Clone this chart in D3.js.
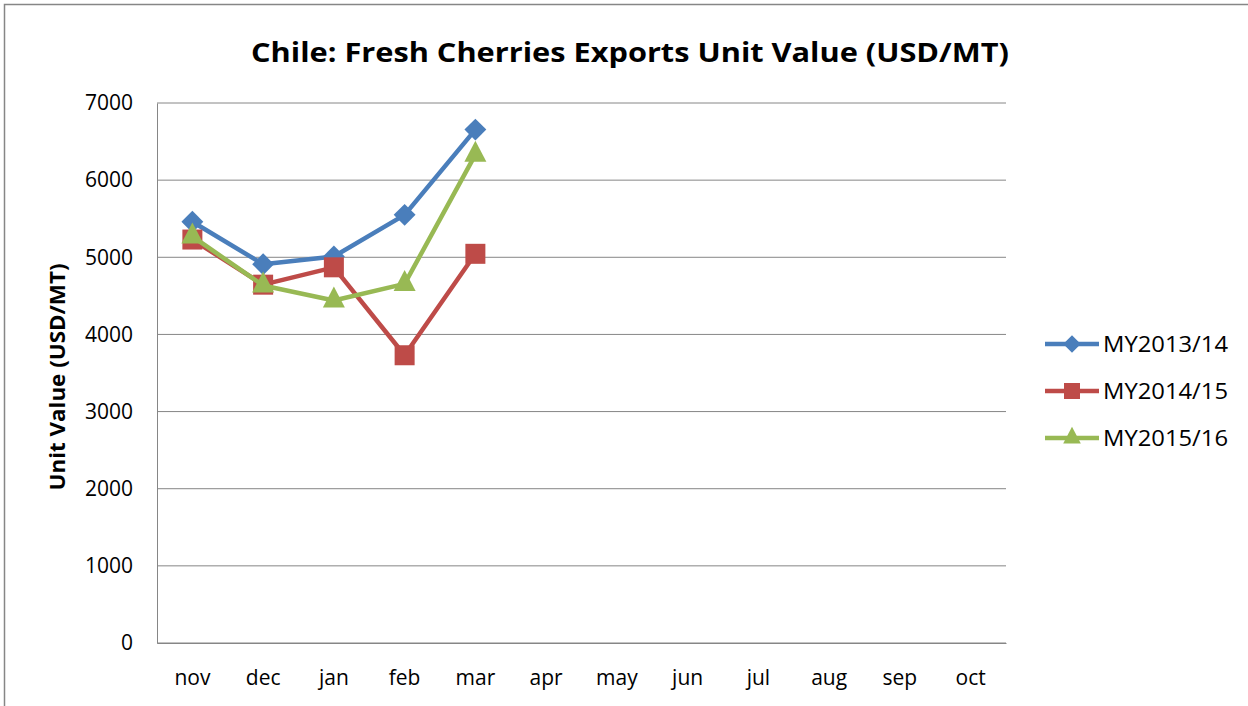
<!DOCTYPE html>
<html>
<head>
<meta charset="utf-8">
<script src="https://cdn.jsdelivr.net/npm/d3@7"></script>
<style>
  body { margin: 0; background: #fff; }
  svg { display: block; font-family: "Open Sans", "Noto Sans", sans-serif; }
</style>
</head>
<body>
<svg id="chart" width="1248" height="706"></svg>
<script>
const months = ["nov", "dec", "jan", "feb", "mar", "apr", "may", "jun", "jul", "aug", "sep", "oct"];
const yTicks = [0, 1000, 2000, 3000, 4000, 5000, 6000, 7000];
const seriesNames = ["MY2013/14", "MY2014/15", "MY2015/16"];
const my1314 = [5460, 4910, 5010, 5550, 6655];
const my1415 = [5230, 4645, 4870, 3730, 5045];
const my1516 = [5270, 4635, 4440, 4655, 6330];
const colors = ["#4a7ebb", "#be4b48", "#98b954"];

const svg = d3.select("#chart");
const plot = { left: 157, right: 1006, top: 103, bottom: 643 };

// outer frame
svg.append("rect")
  .attr("x", 4.5).attr("y", 4.5)
  .attr("width", 1260).attr("height", 720)
  .attr("fill", "none").attr("stroke", "#868686").attr("stroke-width", 1.5);

svg.append("text")
  .attr("x", 630).attr("y", 62)
  .attr("text-anchor", "middle")
  .attr("font-size", 26).attr("font-weight", "bold")
  .attr("textLength", 758).attr("lengthAdjust", "spacingAndGlyphs")
  .text("Chile: Fresh Cherries Exports Unit Value (USD/MT)");

const x = d3.scaleBand().domain(months).range([plot.left, plot.right]);
const y = d3.scaleLinear().domain([0, 7000]).range([plot.bottom, plot.top]);

// gridlines
svg.append("g")
  .selectAll("line")
  .data(yTicks)
  .join("line")
  .attr("x1", plot.left).attr("x2", plot.right)
  .attr("y1", d => y(d)).attr("y2", d => y(d))
  .attr("stroke", "#868686").attr("stroke-width", 1);

// y axis
const yAxis = svg.append("g")
  .attr("transform", `translate(${plot.left},0)`)
  .call(d3.axisLeft(y).tickValues(yTicks).tickFormat(d3.format("d")).tickSize(0).tickPadding(24));
yAxis.select(".domain").attr("stroke", "#868686");
yAxis.selectAll("text").attr("font-size", 21).attr("fill", "#000")
  .attr("font-family", "Open Sans, sans-serif");

// x axis
const xAxis = svg.append("g")
  .attr("transform", `translate(0,${plot.bottom})`)
  .call(d3.axisBottom(x).tickSize(0).tickPadding(27));
xAxis.select(".domain").attr("stroke", "#868686");
xAxis.selectAll("text").attr("font-size", 21).attr("fill", "#000")
  .attr("font-family", "Open Sans, sans-serif");

svg.append("text")
  .attr("transform", `translate(65,${(plot.top + plot.bottom) / 2 + 4}) rotate(-90)`)
  .attr("text-anchor", "middle")
  .attr("font-size", 21).attr("font-weight", "bold")
  .attr("textLength", 227).attr("lengthAdjust", "spacingAndGlyphs")
  .text("Unit Value (USD/MT)");

// marker shapes: diamond is a square turned 45 degrees
function marker(sel, s, scale) {
  if (s === 0) {
    const a = 15.5 * scale;
    sel.append("rect")
      .attr("x", -a / 2).attr("y", -a / 2)
      .attr("width", a).attr("height", a)
      .attr("transform", "rotate(45)");
  } else if (s === 1) {
    const a = 20 * scale;
    sel.append("rect")
      .attr("x", -a / 2).attr("y", -a / 2)
      .attr("width", a).attr("height", a);
  } else {
    const h = 21 * scale, w = 22 * scale;
    sel.append("path")
      .attr("d", `M0,${-h * 2 / 3}L${w / 2},${h / 3}L${-w / 2},${h / 3}Z`);
  }
}

const series = [my1314, my1415, my1516];
const line = d3.line()
  .x((d, i) => x(months[i]) + x.bandwidth() / 2)
  .y(d => y(d));

series.forEach((vals, s) => {
  svg.append("path")
    .attr("d", line(vals))
    .attr("fill", "none")
    .attr("stroke", colors[s]).attr("stroke-width", 4.5)
    .attr("stroke-linejoin", "round");
  svg.append("g")
    .attr("fill", colors[s])
    .selectAll("g")
    .data(vals)
    .join("g")
    .attr("transform", (d, i) => `translate(${x(months[i]) + x.bandwidth() / 2},${y(d)})`)
    .each(function () { marker(d3.select(this), s, 1); });
});

// legend
const legend = svg.append("g")
  .selectAll("g")
  .data(seriesNames)
  .join("g")
  .attr("transform", (d, i) => `translate(1045,${344 + i * 47})`);
legend.append("line")
  .attr("x1", 0).attr("x2", 54)
  .attr("stroke", (d, i) => colors[i]).attr("stroke-width", 4.5);
legend.append("g")
  .attr("transform", "translate(27,0)")
  .attr("fill", (d, i) => colors[i])
  .each(function (d, i) { marker(d3.select(this), i, 0.8); });
legend.append("text")
  .attr("x", 58).attr("y", 8)
  .attr("font-size", 22)
  .attr("textLength", 125).attr("lengthAdjust", "spacingAndGlyphs")
  .text(d => d);
</script>
</body>
</html>
